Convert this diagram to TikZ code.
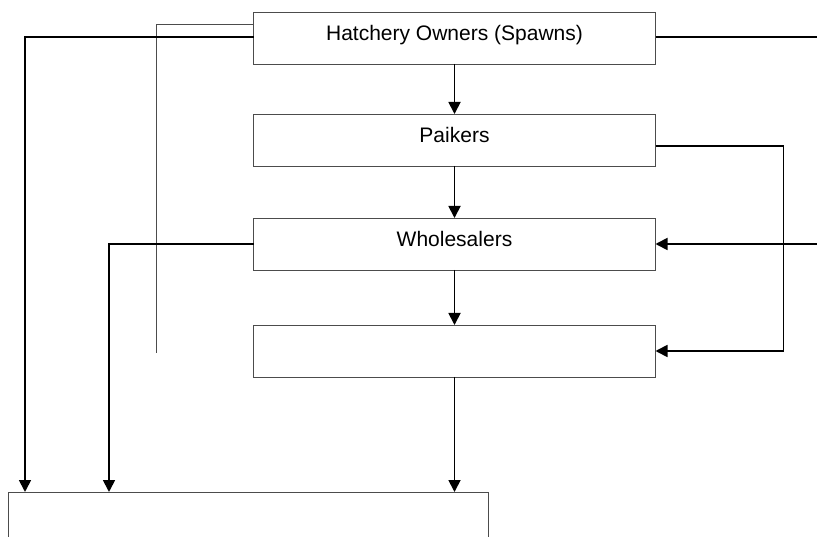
\documentclass[tikz,border=0pt]{standalone}
\usepackage{fontspec}
\setmainfont{Liberation Sans}
\usetikzlibrary{positioning, arrows.meta}

\begin{document}
\begin{tikzpicture}[x=1pt, y=-1pt,
    box/.style={draw=black!70, line width=0.9pt, minimum width=402pt, minimum height=52pt,
      inner sep=0pt, outer sep=0pt, text height=15pt, text depth=10pt, font=\fontsize{21}{25}\selectfont},
    link/.style={line width=1.8pt},
    arr/.style={link, -{Triangle[length=12pt,width=12pt]}},
    guide/.style={draw=black!70, line width=0.9pt}]
    \useasboundingbox (0,0) rectangle (817,537);
    \node [box] (hatch) at (454.5,38) {Hatchery Owners (Spawns)};
    \node [box, below=50pt of hatch] (paik) {Paikers};
    \node [box, below=52pt of paik] (whole) {Wholesalers};
    \node [box, below=55pt of whole] (retail) {};
    \node [box, minimum width=480pt, minimum height=100pt, anchor=north west] (farm) at (8,492) {};
    \coordinate (dropA) at (25,492);
    \coordinate (dropB) at (109,492);
    \coordinate (rim) at (817,244);
    \coordinate (thinend) at (156,353);
    % down the middle
    \draw [arr] (hatch) -- (paik);
    \draw [arr] (paik) -- (whole);
    \draw [arr] (whole) -- (retail);
    \draw [arr] (retail) -- (retail |- farm.north);
    % left side
    \draw [guide] ([yshift=14pt]hatch.west) -| (thinend);
    \draw [arr] ([yshift=1pt]hatch.west) -| (dropA);
    \draw [arr] (whole.west) -| (dropB);
    % right side
    \draw [link] ([yshift=1pt]hatch.east) -- ([yshift=1pt]hatch.east -| rim);
    \draw [arr] (rim) -- (rim -| whole.east);
    \draw [arr] ([yshift=-6pt]paik.east) -- ++(128,0) |- (retail.east);
\end{tikzpicture}
\end{document}
